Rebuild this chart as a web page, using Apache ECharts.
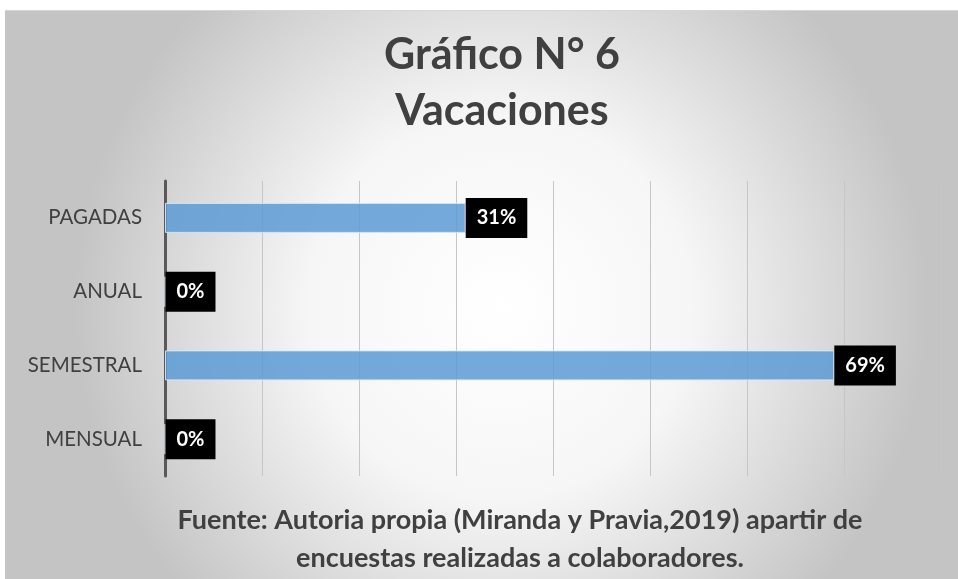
<!DOCTYPE html>
<html>
<head>
<meta charset="utf-8">
<script src="https://cdn.jsdelivr.net/npm/echarts@6/dist/echarts.min.js"></script>
<style>
  html, body { margin: 0; padding: 0; background: #fff; }
  #chart { position: absolute; left: 5px; top: 10px; width: 953px; height: 569px; border-top: 1px solid #d6d6d6; box-sizing: border-box; }
</style>
</head>
<body>
<div id="chart"></div>
<script>
// datos
const categories = ['PAGADAS', 'ANUAL', 'SEMESTRAL', 'MENSUAL'];
const values = [31, 0, 69, 0];
const titleLines = ['Gráfico N° 6', 'Vacaciones'];
const sourceLines = [
  'Fuente: Autoria propia (Miranda y Pravia,2019) apartir de',
  'encuestas realizadas a colaboradores.'
];

const chart = echarts.init(document.getElementById('chart'));

chart.setOption({
  backgroundColor: {
    type: 'radial', x: 0.52, y: 0.52, r: 0.75,
    colorStops: [
      { offset: 0, color: '#ffffff' },
      { offset: 0.45, color: '#f6f6f6' },
      { offset: 1, color: '#c4c4c4' }
    ]
  },
  textStyle: { fontFamily: 'Lato' },
  title: {
    text: titleLines.join('\n'),
    left: 492,
    top: 11,
    textAlign: 'center',
    textStyle: { fontSize: 43, fontWeight: 'bold', color: '#404040', lineHeight: 56, fontFamily: 'Lato' }
  },
  grid: { left: 160, right: 17, top: 170, bottom: 103 },
  xAxis: {
    type: 'value',
    min: 0, max: 80, interval: 10,
    axisLabel: { show: false },
    axisLine: { show: false },
    axisTick: { show: false },
    splitLine: { lineStyle: { color: '#c6c6c6', width: 1 } }
  },
  yAxis: {
    type: 'category',
    inverse: true,
    data: categories,
    axisTick: { show: false },
    axisLine: { lineStyle: { color: '#595959', width: 3 } },
    axisLabel: { color: '#404040', fontSize: 20.5, margin: 23, fontFamily: 'Lato' }
  },
  series: [{
    type: 'bar',
    data: values,
    barWidth: 30,
    itemStyle: { color: 'rgba(91,155,213,0.85)', borderColor: 'rgba(220,232,245,0.9)', borderWidth: 1 },
    label: {
      show: true,
      position: 'right',
      distance: 0,
      formatter: '{c}%',
      backgroundColor: '#000',
      color: '#fff',
      fontWeight: 'bold',
      fontSize: 20,
      lineHeight: 24,
      padding: [8, 11],
      fontFamily: 'Lato'
    }
  }],
  graphic: sourceLines.map((t, i) => ({
    type: 'text',
    x: 515,
    y: 509 + i * 38,
    style: {
      text: t,
      textAlign: 'center',
      textVerticalAlign: 'middle',
      fontSize: 27,
      fontWeight: 'bold',
      fill: '#404040',
      fontFamily: 'Lato'
    }
  }))
});
</script>
</body>
</html>
